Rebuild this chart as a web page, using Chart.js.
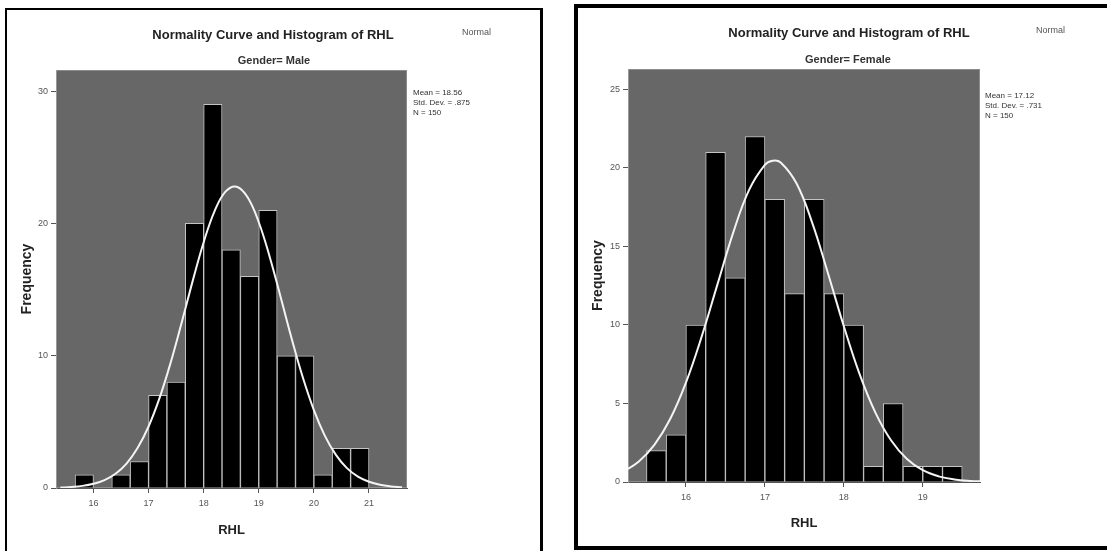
<!DOCTYPE html>
<html>
<head>
<meta charset="utf-8">
<script src="https://cdn.jsdelivr.net/npm/chart.js@4.4.1/dist/chart.umd.min.js"></script>
<style>
  html, body { margin: 0; padding: 0; background: #fff; }
  body { width: 1107px; height: 551px; position: relative; overflow: hidden;
         font-family: 'Liberation Sans', Arial, sans-serif; }
  .panel { position: absolute; box-sizing: border-box; border: 0 solid #000; }
  #panelMale { left: 5px; top: 8px; width: 538px; height: 560px; border-width: 2px 3px 0 2px; }
  #panelFemale { left: 574px; top: 4px; width: 540px; height: 546px; border-width: 4px 0 4px 4px; }
  canvas { position: absolute; top: 0; }
  .txt { position: absolute; white-space: nowrap; color: #222; }
  .title { font-weight: bold; font-size: 13px; transform: translate(-50%, -50%); }
  .sub { font-weight: bold; font-size: 11px; color: #333; transform: translate(-50%, -50%); }
  .legend { font-size: 9px; color: #555; transform: translateY(-50%); }
  .stats { font-size: 8px; line-height: 10px; color: #333; }
</style>
</head>
<body>
<div class="panel" id="panelMale"></div>
<div class="panel" id="panelFemale"></div>

<canvas id="male" width="560" height="551" style="left:0"></canvas>
<canvas id="female" width="547" height="551" style="left:560px"></canvas>

<div class="txt title" style="left:273px; top:34px">Normality Curve and Histogram of RHL</div>
<div class="txt sub" style="left:274px; top:60px">Gender= Male</div>
<div class="txt legend" style="left:462px; top:32px">Normal</div>
<div class="txt stats" style="left:413px; top:88px">Mean = 18.56<br>Std. Dev. = .875<br>N = 150</div>

<div class="txt title" style="left:849px; top:32px">Normality Curve and Histogram of RHL</div>
<div class="txt sub" style="left:848px; top:59px">Gender= Female</div>
<div class="txt legend" style="left:1036px; top:30px">Normal</div>
<div class="txt stats" style="left:985px; top:91px">Mean = 17.12<br>Std. Dev. = .731<br>N = 150</div>

<script>
// Histogram bins (lower edge of each bin) and counts.
const maleBinStarts = [15.667, 16, 16.333, 16.667, 17, 17.333, 17.667, 18,
                       18.333, 18.667, 19, 19.333, 19.667, 20, 20.333, 20.667];
const maleCounts = [1, 0, 1, 2, 7, 8, 20, 29, 18, 16, 21, 10, 10, 1, 3, 3];

const femaleBinStarts = [15.5, 15.75, 16, 16.25, 16.5, 16.75, 17, 17.25,
                         17.5, 17.75, 18, 18.25, 18.5, 18.75, 19, 19.25];
const femaleCounts = [2, 3, 10, 21, 13, 22, 18, 12, 18, 12, 10, 1, 5, 1, 1, 1];

// Normal curve samples.
const maleCurveX = [15.4, 15.6, 15.8, 16.0, 16.2, 16.4, 16.6, 16.8, 17.0, 17.2, 17.4,
                    17.6, 17.8, 18.0, 18.2, 18.4, 18.6, 18.8, 19.0, 19.2, 19.4, 19.6,
                    19.8, 20.0, 20.2, 20.4, 20.6, 20.8, 21.0, 21.2, 21.4, 21.6];
const maleCurveY = [0.03, 0.08, 0.16, 0.32, 0.60, 1.08, 1.85, 3.02, 4.65, 6.81, 9.47,
                    12.49, 15.64, 18.58, 20.95, 22.42, 22.78, 21.96, 20.09, 17.45, 14.38, 11.25,
                    8.35, 5.89, 3.94, 2.50, 1.50, 0.86, 0.47, 0.24, 0.12, 0.06];

const femaleCurveX = [15.2, 15.4, 15.6, 15.8, 16.0, 16.2, 16.4, 16.6, 16.8, 17.0, 17.1, 17.2, 17.4,
                      17.6, 17.8, 18.0, 18.2, 18.4, 18.6, 18.8, 19.0, 19.2, 19.4, 19.6, 19.8];
const femaleCurveY = [0.65, 1.29, 2.36, 4.01, 6.33, 9.27, 12.60, 15.90, 18.60, 20.20, 20.46, 20.35, 19.02,
                      16.50, 13.28, 9.92, 6.87, 4.42, 2.64, 1.46, 0.75, 0.36, 0.16, 0.07, 0.03];

const maleXTicks = [16, 17, 18, 19, 20, 21];
const maleYTicks = [0, 10, 20, 30];
const femaleXTicks = [16, 17, 18, 19];
const femaleYTicks = [0, 5, 10, 15, 20, 25];

const family = "'Liberation Sans', Arial, sans-serif";
const tickFont = { family, size: 9 };
const axisTitleFont = { family, size: 13, weight: 'bold' };

// Grey SPSS-style plot background behind the bars.
const plotBackground = {
    id: 'plotBackground',
    beforeDraw(chart) {
        const { ctx, chartArea: a } = chart;
        ctx.save();
        ctx.fillStyle = '#676767';
        ctx.fillRect(a.left, a.top, a.right - a.left, a.bottom - a.top);
        ctx.strokeStyle = '#8c8c8c';
        ctx.lineWidth = 1;
        ctx.strokeRect(a.left + 0.5, a.top + 0.5, a.right - a.left - 1, a.bottom - a.top - 1);
        ctx.restore();
    },
};

function histogram(canvas, cfg) {
    const binWidth = cfg.binStarts[1] - cfg.binStarts[0];
    const H = canvas.height;
    const W = canvas.width;

    new Chart(canvas, {
        type: 'bar',
        data: {
            datasets: [
                {
                    type: 'line',
                    data: cfg.curveX.map((x, i) => ({ x, y: cfg.curveY[i] })),
                    borderColor: '#f4f4f4',
                    borderWidth: 2,
                    pointRadius: 0,
                    tension: 0.4,
                    order: 0,
                },
                {
                    type: 'bar',
                    data: cfg.binStarts.map((s, i) => ({ x: s + binWidth / 2, y: cfg.counts[i] })),
                    backgroundColor: '#000000',
                    borderColor: '#c4c4c4',
                    borderWidth: 1,
                    barPercentage: 1,
                    categoryPercentage: 1,
                    order: 1,
                },
            ],
        },
        options: {
            responsive: false,
            animation: false,
            layout: { padding: { top: cfg.area.top, right: W - cfg.area.right, left: 0, bottom: 0 } },
            plugins: { legend: { display: false }, tooltip: { enabled: false } },
            scales: {
                x: {
                    type: 'linear',
                    min: cfg.xMin,
                    max: cfg.xMax,
                    offset: false,
                    afterFit: (s) => { s.height = H - cfg.area.bottom; },
                    afterBuildTicks: (s) => { s.ticks = cfg.xTicks.map((value) => ({ value })); },
                    grid: { drawOnChartArea: false, offset: false, tickLength: 5, color: '#555' },
                    border: { color: '#555' },
                    ticks: { font: tickFont, color: '#555', padding: 5, maxRotation: 0, autoSkip: false },
                    title: { display: true, text: 'RHL', font: axisTitleFont, color: '#222',
                             padding: { top: 0, bottom: cfg.xTitlePad } },
                },
                y: {
                    min: 0,
                    max: cfg.yMax,
                    afterFit: (s) => { s.width = cfg.area.left; },
                    afterBuildTicks: (s) => { s.ticks = cfg.yTicks.map((value) => ({ value })); },
                    grid: { drawOnChartArea: false, tickLength: 5, color: '#555' },
                    border: { color: '#999' },
                    ticks: { font: tickFont, color: '#555', padding: 3 },
                    title: { display: true, text: 'Frequency', color: '#222',
                             font: { family, size: 14, weight: 'bold' },
                             padding: { top: cfg.yTitlePad, bottom: 0 } },
                },
            },
        },
        plugins: [plotBackground],
    });
}

histogram(document.getElementById('male'), {
    binStarts: maleBinStarts, counts: maleCounts,
    curveX: maleCurveX, curveY: maleCurveY,
    xTicks: maleXTicks, yTicks: maleYTicks,
    xMin: 15.32, xMax: 21.69, yMax: 31.6,
    area: { left: 56, right: 407, top: 70, bottom: 488 },
    xTitlePad: 13, yTitlePad: 18.6,
});

histogram(document.getElementById('female'), {
    binStarts: femaleBinStarts, counts: femaleCounts,
    curveX: femaleCurveX, curveY: femaleCurveY,
    xTicks: femaleXTicks, yTicks: femaleYTicks,
    xMin: 15.266, xMax: 19.725, yMax: 26.3,
    area: { left: 68, right: 420, top: 69, bottom: 482 },
    xTitlePad: 20, yTitlePad: 30.2,
});
</script>
</body>
</html>
